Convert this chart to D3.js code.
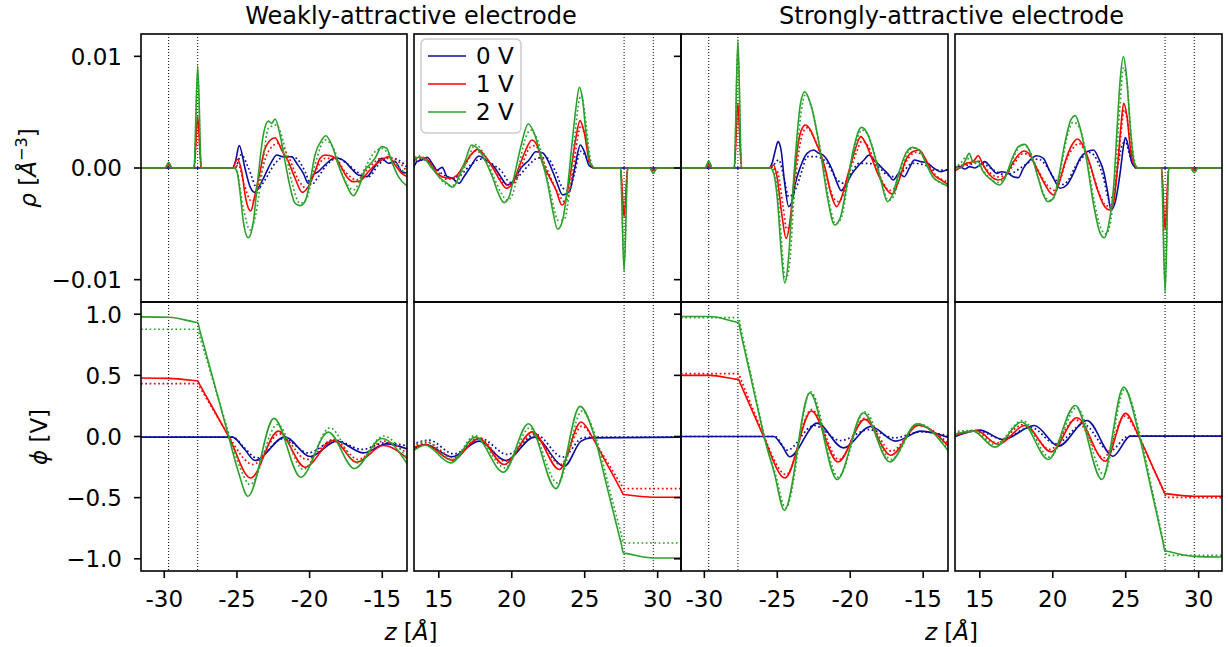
<!DOCTYPE html>
<html><head><meta charset="utf-8">
<script src="https://cdn.jsdelivr.net/npm/d3@7"></script>
<style>
body{margin:0;background:#fff}
text{font-family:"DejaVu Sans",sans-serif;fill:#000}
</style>
</head><body>
<svg id="chart" width="1228" height="647"></svg>
<script>
// ---------------- DATA (z in Å; rho in 1e-3 Å^-3; phi in V) ----------------
const voltages = ["0 V", "1 V", "2 V"];
const colors = ["#0b0b9e", "#ff0000", "#2ca02c"];
const titles = ["Weakly-attractive electrode", "Strongly-attractive electrode"];
const xTicksL = [-30, -25, -20, -15];
const xTickLabelsL = ["-30", "-25", "-20", "-15"];
const xTicksR = [15, 20, 25, 30];
const xTickLabelsR = ["15", "20", "25", "30"];
const rhoTicks = [-0.01, 0, 0.01];
const rhoTickLabels = ["\u22120.01", "0.00", "0.01"];
const phiTicks = [-1, -0.5, 0, 0.5, 1];
const phiTickLabels = ["\u22121.0", "\u22120.5", "0.0", "0.5", "1.0"];
const electrodeL = [-29.7, -27.7];
const electrodeR = [27.7, 29.7];

// ---- Weakly attractive: charge density, left wall ----
const weakRhoL_0V = [[-31.6,0],[-25.3,0],[-25.1,0.6],[-24.84,2.0],[-24.45,0],[-24.1,-1.67],[-23.76,-2.18],[-23.41,-1.52],[-23.07,-0.63],[-22.61,0.57],[-22.26,1.16],[-21.81,1.01],[-21.23,1.01],[-20.89,0.42],[-20.43,-0.48],[-20.09,-1.37],[-19.75,-0.63],[-19.4,-0.33],[-18.94,0.27],[-18.25,0.92],[-17.56,0.57],[-17.1,-0.09],[-16.65,-0.63],[-16.07,-0.78],[-15.6,-0.03],[-15.04,0.87],[-14.58,0.42],[-14.12,0.57],[-13.66,-0.33],[-13.2,-0.5]];
const weakRhoL_0V_dot = [[-31.6,0],[-25.13,0],[-24.7,1.2],[-24.21,0],[-23.57,-1.88],[-23.07,-1.07],[-22.38,0.42],[-21.69,1.02],[-21.0,0.93],[-20.31,-0.33],[-19.9,-1.52],[-19.4,-0.78],[-18.82,0.27],[-18.13,0.87],[-17.45,0.42],[-16.76,-0.33],[-15.96,-0.78],[-15.27,0.27],[-14.58,0.93],[-13.89,0.72],[-13.2,-0.05]];
const weakRhoL_1V = [[-31.6,0],[-29.95,0],[-29.7,0.3],[-29.45,0],[-27.95,0],[-27.7,4.6],[-27.45,0],[-25.3,0],[-24.98,0.78],[-24.67,-0.33],[-24.4,-2.71],[-24.05,-3.85],[-23.76,-2.42],[-23.41,-0.33],[-23.07,1.76],[-22.38,2.71],[-21.92,1.61],[-21.46,0.57],[-21.0,-0.92],[-20.5,-2.18],[-20.09,-1.67],[-19.63,-0.33],[-19.28,0.87],[-18.94,1.16],[-18.37,1.01],[-17.91,0.27],[-17.45,-0.78],[-17.0,-1.22],[-16.53,-1.16],[-15.96,-0.33],[-15.5,0.27],[-15.04,0.72],[-14.58,1.01],[-14.12,0.27],[-13.66,-0.48],[-13.2,-0.8]];
const weakRhoL_1V_dot = [[-31.6,0],[-29.95,0],[-29.7,0.25],[-29.45,0],[-27.95,0],[-27.7,4.2],[-27.45,0],[-25.2,0],[-24.9,0.27],[-24.5,-1.5],[-23.98,-3.0],[-23.64,-2.27],[-23.3,-0.33],[-22.84,1.46],[-22.15,2.21],[-21.46,1.02],[-20.77,-1.07],[-20.2,-1.82],[-19.63,-0.33],[-18.94,0.87],[-18.25,0.87],[-17.56,-0.33],[-16.76,-1.07],[-15.96,-0.03],[-15.04,0.87],[-14.35,0.87],[-13.2,-0.5]];
const weakRhoL_2V = [[-31.6,0],[-29.95,0],[-29.7,0.5],[-29.45,0],[-27.95,0],[-27.7,9.2],[-27.45,0],[-25.2,0],[-25.0,-0.3],[-24.79,-2.12],[-24.56,-4.8],[-24.22,-6.24],[-23.87,-4.8],[-23.53,-0.63],[-23.19,2.95],[-22.84,4.2],[-22.61,4.0],[-22.38,4.39],[-22.03,2.95],[-21.69,0.57],[-21.35,-1.67],[-21.0,-3.16],[-20.66,-3.37],[-20.32,-3.01],[-19.97,-1.22],[-19.63,1.16],[-19.17,2.5],[-18.89,2.89],[-18.47,2.06],[-18.02,0.27],[-17.56,-1.22],[-16.99,-2.48],[-16.65,-1.82],[-16.19,-0.18],[-15.84,0.33],[-15.5,0.87],[-15.04,1.91],[-14.69,1.76],[-14.35,0.57],[-13.89,-0.78],[-13.2,-1.7]];
const weakRhoL_2V_dot = [[-31.6,0],[-29.95,0],[-29.7,0.45],[-29.45,0],[-27.95,0],[-27.7,8.4],[-27.45,0],[-25.1,0],[-24.56,-3.61],[-24.1,-5.55],[-23.71,-4.21],[-23.3,-0.63],[-22.84,3.55],[-22.27,3.85],[-21.81,2.36],[-21.23,-1.22],[-20.66,-3.16],[-20.2,-2.72],[-19.63,0.27],[-18.94,2.51],[-18.25,1.46],[-17.68,-0.78],[-16.99,-1.97],[-16.19,0],[-15.5,1.46],[-15.04,1.76],[-14.35,0.87],[-13.66,-0.18],[-13.2,-0.65]];

// ---- Weakly attractive: charge density, right wall ----
const weakRhoR_0V = [[13.2,-0.18],[13.51,0.57],[13.85,0.72],[14.2,0.96],[14.54,0.42],[14.88,-0.18],[15.23,0.06],[15.57,-0.78],[15.92,-0.92],[16.38,-1.37],[16.72,-0.78],[17.18,0.12],[17.75,1.07],[18.21,0.72],[18.79,0.12],[19.24,-0.78],[19.7,-1.52],[20.16,-1.07],[20.62,-0.03],[21.19,0.72],[21.65,1.46],[22.11,1.37],[22.57,0.42],[23.03,-1.07],[23.49,-2.42],[23.95,-2.12],[24.29,-0.18],[24.7,2.06],[24.98,1.46],[25.32,0.18],[25.67,0],[31.6,0]];
const weakRhoR_0V_dot = [[13.2,0.3],[13.85,0.8],[14.5,0.3],[15.2,-0.5],[15.9,-0.9],[16.5,-0.6],[17.2,0.3],[17.9,0.8],[18.6,0.4],[19.3,-0.3],[19.9,-1.3],[20.5,-0.7],[21.2,0.3],[21.8,0.9],[22.4,0.9],[23.0,-0.3],[23.5,-1.8],[23.9,-2.0],[24.3,-0.5],[24.7,1.5],[25.0,1.2],[25.4,0.2],[25.7,0],[31.6,0]];
const weakRhoR_1V = [[13.2,0.57],[13.62,0.96],[14.08,0.87],[14.43,0.42],[14.77,-0.33],[15.23,-0.78],[15.8,-0.92],[16.26,-0.63],[16.72,0.27],[17.29,1.31],[17.64,1.67],[18.21,1.01],[18.79,-0.18],[19.24,-1.22],[19.63,-1.82],[20.05,-1.37],[20.51,0.12],[20.96,1.61],[21.38,2.51],[21.77,1.91],[22.11,0.42],[22.57,-0.78],[23.03,-1.97],[23.44,-3.31],[23.72,-2.72],[24.06,-0.18],[24.41,2.81],[24.68,4.24],[24.98,3.1],[25.32,0.57],[25.67,0],[27.45,0],[27.7,-4.4],[27.95,0],[29.45,0],[29.7,-0.25],[29.95,0],[31.6,0]];
const weakRhoR_1V_dot = [[13.2,0.4],[13.7,0.9],[14.2,0.7],[14.9,-0.3],[15.5,-1.0],[16.1,-0.9],[16.8,0.3],[17.5,1.5],[18.2,1.0],[18.9,-0.3],[19.6,-1.5],[20.2,-1.3],[20.7,0.3],[21.3,1.9],[21.6,2.0],[22.2,0.5],[23.2,-2.3],[23.6,-3.0],[23.9,-2.5],[24.2,-0.2],[24.5,2.6],[24.75,3.8],[25.0,3.0],[25.4,0.4],[25.7,0],[27.45,0],[27.7,-4.0],[27.95,0],[29.45,0],[29.7,-0.2],[29.95,0],[31.6,0]];
const weakRhoR_2V = [[13.2,0.42],[13.62,0.96],[14.08,0.72],[14.54,-0.03],[15.11,-0.92],[15.57,-1.37],[15.96,-1.73],[16.38,-0.78],[16.83,0.72],[17.25,2.06],[17.52,1.91],[18.1,0.87],[18.67,-0.78],[19.08,-2.27],[19.47,-3.1],[19.82,-2.57],[20.16,-0.78],[20.62,1.91],[21.13,3.94],[21.54,3.1],[22.0,1.01],[22.46,-1.37],[22.8,-3.76],[23.14,-5.49],[23.49,-4.65],[23.83,-1.67],[24.18,2.81],[24.41,5.49],[24.63,7.22],[24.86,6.09],[25.09,3.1],[25.44,0.27],[25.78,0],[27.45,0],[27.7,-9.3],[27.95,0],[29.45,0],[29.7,-0.48],[29.95,0],[31.6,0]];
const weakRhoR_2V_dot = [[13.2,0.6],[13.6,1.1],[14.1,0.8],[14.6,0],[15.2,-1.1],[15.8,-1.6],[16.4,-1.0],[17.0,0.8],[17.5,2.1],[18.2,1.0],[18.8,-0.9],[19.3,-2.3],[19.7,-2.9],[20.1,-2.2],[20.5,0.2],[20.9,2.5],[21.3,3.4],[21.7,2.7],[22.2,0.5],[22.7,-2.5],[23.2,-4.7],[23.6,-4.6],[24.0,-1.5],[24.3,2.5],[24.55,5.5],[24.75,6.5],[25.0,5.0],[25.3,1.5],[25.6,0],[27.45,0],[27.7,-8.5],[27.95,0],[29.45,0],[29.7,-0.45],[29.95,0],[31.6,0]];

// ---- Strongly attractive: charge density, left wall ----
const strongRhoL_0V = [[-31.6,0],[-25.59,0],[-25.36,0.42],[-25.13,1.61],[-24.95,2.36],[-24.74,1.61],[-24.52,-1.07],[-24.22,-3.46],[-23.99,-3.01],[-23.76,-1.37],[-23.41,0.12],[-22.96,1.31],[-22.5,1.61],[-22.15,1.31],[-21.85,1.16],[-21.58,0.72],[-21.23,-0.18],[-20.89,-1.37],[-20.62,-2.03],[-20.32,-1.52],[-19.86,-0.48],[-19.4,0.27],[-19.06,0.72],[-18.71,1.16],[-18.37,0.72],[-17.91,0.12],[-17.45,-0.48],[-17.04,-1.07],[-16.65,-0.48],[-16.3,-0.78],[-15.96,-0.03],[-15.61,0.72],[-15.16,0.57],[-14.7,0.42],[-14.24,-0.03],[-13.78,-0.33],[-13.2,-0.03]];
const strongRhoL_0V_dot = [[-31.6,0],[-25.45,0],[-25.25,0.27],[-24.9,0.72],[-24.55,-0.8],[-24.22,-2.57],[-23.76,-1.97],[-23.3,-0.2],[-22.96,1.01],[-22.3,1.01],[-21.6,0.45],[-20.89,-1.07],[-20.43,-1.37],[-19.95,-0.5],[-19.4,0.42],[-18.8,0.42],[-18.1,0.12],[-17.45,-0.63],[-16.88,-0.78],[-16.3,-0.2],[-15.73,0.42],[-14.9,0.27],[-14.2,-0.2],[-13.2,-0.18]];
const strongRhoL_1V = [[-31.6,0],[-29.95,0],[-29.7,0.3],[-29.45,0],[-27.95,0],[-27.7,5.8],[-27.45,0],[-25.59,0],[-25.25,0.27],[-25.02,-0.78],[-24.67,-4.36],[-24.4,-6.3],[-24.15,-4.95],[-23.87,-1.37],[-23.6,1.91],[-23.3,3.55],[-23.07,3.85],[-22.73,3.4],[-22.38,2.36],[-22.04,1.31],[-21.69,-0.18],[-21.3,-2.42],[-20.94,-3.46],[-20.62,-2.72],[-20.2,-0.78],[-19.74,1.31],[-19.28,2.81],[-18.94,2.21],[-18.48,0.72],[-18.02,-0.78],[-17.56,-1.82],[-17.11,-2.33],[-16.65,-1.07],[-16.19,0.72],[-15.73,1.46],[-15.27,1.61],[-14.81,0.72],[-14.35,-0.48],[-13.78,-1.07],[-13.2,-1.55]];
const strongRhoL_1V_dot = [[-31.6,0],[-29.95,0],[-29.7,0.25],[-29.45,0],[-27.95,0],[-27.7,5.3],[-27.45,0],[-25.4,0],[-25.0,-0.3],[-24.6,-3.5],[-24.35,-5.5],[-24.1,-4.8],[-23.8,-1.5],[-23.5,1.7],[-23.2,3.3],[-22.95,3.6],[-22.6,3.0],[-22.2,1.8],[-21.8,0.2],[-21.4,-1.8],[-20.9,-3.0],[-20.5,-2.5],[-20.1,-0.6],[-19.6,1.3],[-19.2,2.4],[-18.8,2.0],[-18.3,0.4],[-17.8,-1.2],[-17.3,-2.0],[-16.9,-1.7],[-16.5,-0.4],[-16.0,0.9],[-15.5,1.4],[-15.1,1.2],[-14.6,0.2],[-14.1,-0.7],[-13.6,-1.1],[-13.2,-1.3]];
const strongRhoL_2V = [[-31.6,0],[-29.95,0],[-29.7,0.63],[-29.45,0],[-27.95,0],[-27.7,11.5],[-27.45,0],[-25.48,0],[-25.25,-0.48],[-24.97,-3.16],[-24.74,-7.34],[-24.49,-10.3],[-24.22,-7.94],[-23.99,-3.16],[-23.69,2.21],[-23.41,5.79],[-23.12,6.83],[-22.73,5.79],[-22.31,3.4],[-21.92,0.42],[-21.53,-2.86],[-21.07,-5.1],[-20.66,-4.36],[-20.25,-1.67],[-19.74,1.91],[-19.24,3.64],[-18.83,3.1],[-18.37,1.31],[-17.91,-1.07],[-17.45,-3.01],[-17.11,-2.42],[-16.65,-0.33],[-16.19,1.31],[-15.73,1.85],[-15.27,1.61],[-14.81,0.42],[-14.35,-0.78],[-13.78,-1.31],[-13.2,-1.7]];
const strongRhoL_2V_dot = [[-31.6,0],[-29.95,0],[-29.7,0.55],[-29.45,0],[-27.95,0],[-27.7,10.5],[-27.45,0],[-25.4,0],[-25.1,-0.8],[-24.8,-5.0],[-24.45,-10.0],[-24.15,-8.5],[-23.9,-3.5],[-23.6,2.0],[-23.3,5.6],[-23.05,6.6],[-22.7,5.6],[-22.25,3.0],[-21.85,0.2],[-21.45,-3.0],[-21.0,-5.0],[-20.6,-4.4],[-20.2,-1.6],[-19.7,1.7],[-19.2,3.4],[-18.8,3.0],[-18.3,1.1],[-17.85,-1.2],[-17.4,-2.9],[-17.0,-2.5],[-16.6,-0.5],[-16.1,1.3],[-15.7,1.8],[-15.2,1.5],[-14.75,0.3],[-14.3,-0.8],[-13.7,-1.4],[-13.2,-1.6]];

// ---- Strongly attractive: charge density, right wall ----
const strongRhoR_0V = [[13.2,-0.09],[13.62,0.12],[13.97,-0.09],[14.31,0.12],[14.66,0],[15.0,0.27],[15.34,0.57],[15.8,-0.03],[16.15,-0.48],[16.49,-0.33],[16.95,-0.48],[17.29,-0.78],[17.64,-0.86],[17.98,-0.03],[18.44,0.72],[18.9,1.1],[19.36,0.87],[19.7,-0.03],[20.05,-0.92],[20.51,-1.82],[20.96,-1.52],[21.42,-0.48],[21.88,0.87],[22.34,1.46],[22.8,1.61],[23.14,0.87],[23.49,-0.33],[23.76,-2.12],[23.99,-3.76],[24.29,-3.01],[24.63,-0.33],[24.86,2.06],[24.98,2.72],[25.21,1.76],[25.44,0.42],[25.78,0],[31.6,0]];
const strongRhoR_0V_dot = [[13.2,0.1],[13.8,0.2],[14.3,0.3],[14.9,0.6],[15.5,0.2],[16.1,-0.3],[16.7,-0.6],[17.3,-0.4],[17.9,0.1],[18.5,0.6],[19.0,0.8],[19.5,0.3],[20.1,-0.9],[20.6,-1.5],[21.0,-1.2],[21.5,0],[22.0,0.9],[22.5,1.4],[23.0,0.8],[23.5,-1.0],[23.85,-2.8],[24.15,-2.5],[24.5,0.5],[24.8,2.2],[25.0,2.3],[25.3,1.0],[25.7,0],[31.6,0]];
const strongRhoR_1V = [[13.2,-0.33],[13.62,0],[14.08,0.42],[14.54,0.57],[14.89,1.1],[15.23,0.27],[15.69,-0.63],[16.26,-1.07],[16.72,-0.78],[17.18,0.27],[17.64,1.16],[18.03,1.52],[18.44,1.16],[18.9,-0.03],[19.36,-1.22],[19.77,-2.12],[20.05,-2.42],[20.39,-1.52],[20.85,0.57],[21.31,2.06],[21.7,2.6],[22.11,1.91],[22.57,0.27],[23.03,-1.82],[23.49,-3.31],[23.9,-3.76],[24.18,-3.01],[24.45,0.27],[24.68,3.85],[24.86,5.79],[25.09,4.6],[25.32,1.76],[25.67,0.12],[25.9,0],[27.45,0],[27.7,-5.55],[27.95,0],[29.45,0],[29.7,-0.2],[29.95,0],[31.6,0]];
const strongRhoR_1V_dot = [[13.2,-0.2],[13.7,0.2],[14.3,0.4],[14.9,0.6],[15.5,-0.2],[16.2,-0.8],[16.8,-0.6],[17.4,0.5],[18.0,1.3],[18.5,1.0],[19.0,-0.2],[19.6,-1.5],[20.1,-2.0],[20.5,-1.1],[20.9,0.6],[21.4,1.8],[21.8,2.2],[22.2,1.5],[22.7,-0.3],[23.2,-2.3],[23.7,-3.4],[24.0,-3.3],[24.35,-1.0],[24.65,2.8],[24.9,5.2],[25.1,4.4],[25.4,1.5],[25.8,0],[27.45,0],[27.7,-5.0],[27.95,0],[29.45,0],[29.7,-0.18],[29.95,0],[31.6,0]];
const strongRhoR_2V = [[13.2,0.27],[13.62,0],[13.97,0.57],[14.27,1.31],[14.54,0.57],[14.89,0.57],[15.23,-0.33],[15.8,-1.07],[16.33,-1.52],[16.72,-0.92],[17.18,0.72],[17.64,1.91],[18.1,2.12],[18.56,1.01],[19.01,-0.92],[19.36,-2.42],[19.66,-3.01],[20.05,-2.72],[20.39,-0.92],[20.85,2.36],[21.24,4.3],[21.54,4.69],[21.88,3.55],[22.34,0.57],[22.8,-3.31],[23.21,-5.7],[23.53,-6.24],[23.83,-5.1],[24.18,-1.52],[24.41,3.55],[24.63,8.03],[24.84,9.97],[25.05,8.33],[25.32,3.55],[25.6,0.42],[25.9,0],[27.45,0],[27.7,-11.2],[27.95,0],[29.45,0],[29.7,-0.42],[29.95,0],[31.6,0]];
const strongRhoR_2V_dot = [[13.2,0.2],[13.6,0.3],[14.0,0.9],[14.5,0.6],[15.0,0.1],[15.6,-0.8],[16.2,-1.3],[16.8,-0.7],[17.4,1.2],[17.9,2.1],[18.4,1.6],[18.9,-0.4],[19.4,-2.4],[19.8,-2.9],[20.2,-2.3],[20.6,0.3],[21.0,2.9],[21.4,4.1],[21.8,3.7],[22.3,1.2],[22.8,-2.7],[23.3,-5.4],[23.65,-5.9],[24.0,-4.5],[24.3,-0.5],[24.6,5.5],[24.85,9.0],[25.1,7.5],[25.4,2.5],[25.8,0],[27.45,0],[27.7,-10.3],[27.95,0],[29.45,0],[29.7,-0.4],[29.95,0],[31.6,0]];

// ---- Weakly attractive: potential ----
const weakPhiL_0V = [[-31.6,-0.005],[-25.3,-0.005],[-24.5,-0.1],[-23.76,-0.196],[-21.69,-0.003],[-19.97,-0.164],[-18.14,-0.038],[-16.3,-0.134],[-14.7,-0.06],[-13.2,-0.106]];
const weakPhiL_0V_dot = [[-31.6,-0.005],[-25.3,-0.005],[-24.5,-0.09],[-23.65,-0.175],[-21.8,-0.016],[-20.1,-0.134],[-18.25,-0.03],[-16.4,-0.106],[-14.8,-0.052],[-13.2,-0.079]];
const weakPhiL_1V = [[-31.6,0.478],[-29.66,0.475],[-27.85,0.456],[-27.7,0.454],[-27.55,0.422],[-26.63,0.227],[-25.9,0.07],[-25.57,0.0],[-24.06,-0.339],[-22.15,0.044],[-20.32,-0.251],[-18.37,-0.033],[-16.76,-0.21],[-14.93,-0.074],[-13.2,-0.188]];
const weakPhiL_1V_dot = [[-31.6,0.432],[-27.85,0.432],[-27.7,0.432],[-27.55,0.402],[-26.6,0.212],[-25.9,0.07],[-25.5,-0.01],[-23.87,-0.229],[-22.08,0.022],[-20.2,-0.188],[-18.37,-0.024],[-16.65,-0.188],[-14.93,-0.038],[-13.2,-0.147]];
const weakPhiL_2V = [[-31.6,0.978],[-29.66,0.975],[-27.85,0.935],[-27.7,0.932],[-27.55,0.866],[-26.63,0.464],[-25.9,0.144],[-25.57,0.0],[-24.9,-0.29],[-24.24,-0.489],[-22.45,0.148],[-20.61,-0.333],[-18.71,0.036],[-16.92,-0.262],[-15.04,-0.016],[-13.2,-0.24]];
const weakPhiL_2V_dot = [[-31.6,0.877],[-27.85,0.877],[-27.7,0.877],[-27.55,0.817],[-26.6,0.44],[-25.9,0.16],[-25.5,0.0],[-24.8,-0.25],[-24.1,-0.393],[-22.22,0.098],[-20.43,-0.27],[-18.6,0.071],[-16.76,-0.216],[-14.93,0.003],[-13.2,-0.2]];
const weakPhiR_0V = [[13.2,-0.106],[14.08,-0.065],[15.92,-0.166],[17.75,-0.038],[19.59,-0.197],[21.54,-0.005],[23.6,-0.243],[24.75,-0.038],[25.44,-0.011],[31.6,-0.005]];
const weakPhiR_0V_dot = [[13.2,-0.065],[14.31,-0.03],[16.03,-0.142],[17.87,-0.016],[19.7,-0.147],[21.65,0.016],[23.49,-0.169],[24.86,-0.011],[25.55,-0.005],[31.6,-0.005]];
const weakPhiR_1V = [[13.2,-0.093],[14.08,-0.065],[15.92,-0.194],[17.75,-0.016],[19.47,-0.229],[21.42,0.038],[23.26,-0.27],[24.75,0.118],[25.55,-0.011],[26.0,-0.11],[26.6,-0.242],[27.2,-0.374],[27.51,-0.442],[27.66,-0.475],[27.81,-0.477],[29.68,-0.497],[31.6,-0.497]];
const weakPhiR_1V_dot = [[13.2,-0.079],[14.2,-0.05],[16.03,-0.175],[17.75,-0.011],[19.54,-0.202],[21.49,0.022],[23.33,-0.229],[24.82,0.085],[25.55,-0.011],[26.0,-0.1],[26.6,-0.218],[27.2,-0.336],[27.51,-0.396],[27.66,-0.426],[27.81,-0.426],[31.6,-0.426]];
const weakPhiR_2V = [[13.2,-0.12],[14.08,-0.071],[15.8,-0.216],[17.52,-0.005],[19.43,-0.292],[21.15,0.104],[23.03,-0.426],[24.68,0.246],[25.67,0.0],[26.47,-0.383],[27.1,-0.685],[27.51,-0.881],[27.66,-0.953],[27.81,-0.956],[29.68,-0.994],[31.6,-0.994]];
const weakPhiR_2V_dot = [[13.2,-0.079],[14.08,-0.04],[15.92,-0.188],[17.48,0.008],[19.54,-0.257],[21.24,0.071],[23.14,-0.38],[24.82,0.208],[25.75,0.0],[26.7,-0.433],[27.2,-0.661],[27.51,-0.803],[27.66,-0.871],[27.81,-0.871],[31.6,-0.871]];

// ---- Strongly attractive: potential ----
const strongPhiL_0V = [[-31.6,0],[-25.25,0],[-24.7,-0.07],[-24.15,-0.166],[-22.27,0.109],[-20.48,-0.093],[-18.6,0.082],[-16.88,-0.038],[-15.16,0.044],[-13.2,-0.011]];
const strongPhiL_0V_dot = [[-31.6,0],[-25.15,0],[-24.33,-0.112],[-22.5,0.09],[-20.66,-0.033],[-18.71,0.057],[-16.99,-0.011],[-15.16,0.038],[-13.2,0.003]];
const strongPhiL_1V = [[-31.6,0.5],[-29.61,0.5],[-27.81,0.469],[-27.66,0.467],[-27.51,0.426],[-26.81,0.236],[-26.2,0.07],[-25.94,0.0],[-24.47,-0.339],[-22.66,0.208],[-20.84,-0.208],[-19.01,0.14],[-17.22,-0.153],[-15.34,0.093],[-13.2,-0.087]];
const strongPhiL_1V_dot = [[-31.6,0.514],[-27.81,0.514],[-27.66,0.514],[-27.51,0.47],[-26.8,0.263],[-26.2,0.088],[-25.9,0.0],[-24.38,-0.311],[-22.66,0.221],[-20.77,-0.188],[-19.01,0.148],[-17.17,-0.12],[-15.34,0.09],[-13.2,-0.065]];
const strongPhiL_2V = [[-31.6,0.981],[-29.61,0.981],[-27.81,0.936],[-27.66,0.932],[-27.51,0.852],[-26.81,0.479],[-26.2,0.154],[-25.94,0.016],[-25.2,-0.3],[-24.51,-0.604],[-22.77,0.358],[-20.89,-0.352],[-19.1,0.194],[-17.29,-0.208],[-15.43,0.104],[-13.2,-0.131]];
const strongPhiL_2V_dot = [[-31.6,0.973],[-27.81,0.973],[-27.66,0.973],[-27.51,0.891],[-26.78,0.492],[-26.2,0.175],[-25.88,0.0],[-25.15,-0.3],[-24.42,-0.585],[-22.73,0.366],[-20.82,-0.333],[-19.01,0.202],[-17.22,-0.188],[-15.34,0.104],[-13.2,-0.115]];
const strongPhiR_0V = [[13.2,-0.005],[15.0,0.052],[16.61,-0.025],[18.74,0.09],[20.39,-0.079],[22.34,0.131],[24.13,-0.161],[25.32,0.003],[31.6,0.003]];
const strongPhiR_0V_dot = [[13.2,0.005],[14.9,0.045],[16.5,-0.02],[18.5,0.075],[20.2,-0.06],[22.1,0.1],[23.9,-0.12],[25.2,0.003],[31.6,0.003]];
const strongPhiR_1V = [[13.2,0.003],[14.77,0.049],[16.26,-0.065],[18.1,0.09],[19.89,-0.126],[21.65,0.153],[23.6,-0.202],[24.98,0.189],[25.9,0.0],[26.8,-0.235],[27.3,-0.365],[27.54,-0.428],[27.69,-0.467],[27.84,-0.469],[29.68,-0.489],[31.6,-0.489]];
const strongPhiR_1V_dot = [[13.2,0.022],[14.66,0.044],[16.15,-0.052],[17.98,0.098],[19.82,-0.106],[21.54,0.139],[23.49,-0.175],[24.93,0.167],[25.9,0.0],[26.8,-0.237],[27.3,-0.368],[27.64,-0.458],[27.79,-0.497],[27.94,-0.498],[31.6,-0.5]];
const strongPhiR_2V = [[13.2,0.016],[14.54,0.044],[16.03,-0.087],[17.87,0.118],[19.7,-0.188],[21.54,0.254],[23.37,-0.352],[24.86,0.404],[25.94,0.0],[26.81,-0.464],[27.3,-0.726],[27.54,-0.854],[27.69,-0.934],[27.84,-0.938],[29.68,-0.98],[31.6,-0.986]];
const strongPhiR_2V_dot = [[13.2,0.038],[14.54,0.05],[16.03,-0.065],[17.94,0.131],[19.77,-0.169],[21.65,0.235],[23.49,-0.311],[24.93,0.385],[26.01,0.0],[26.9,-0.486],[27.4,-0.759],[27.64,-0.89],[27.79,-0.972],[27.94,-0.972],[31.6,-0.972]];

// ---------------- LAYOUT ----------------
const svg = d3.select("#chart");
const FONT = 23;
const groups = [
  {cols: [[141, 407], [414, 681]], title: titles[0], labelTicks: true},
  {cols: [[681, 948], [955, 1222]], title: titles[1], labelTicks: false}
];
const rows = [
  {y: [34, 302], domain: [-0.012, 0.012], ticks: rhoTicks, tickLabels: rhoTickLabels, unit: 1e-3},
  {y: [302, 571], domain: [-1.1, 1.1], ticks: phiTicks, tickLabels: phiTickLabels, unit: 1}
];
const seriesByPanel = {
  "0-0-0": [[weakRhoL_0V, weakRhoL_0V_dot], [weakRhoL_1V, weakRhoL_1V_dot], [weakRhoL_2V, weakRhoL_2V_dot]],
  "0-0-1": [[weakRhoR_0V, weakRhoR_0V_dot], [weakRhoR_1V, weakRhoR_1V_dot], [weakRhoR_2V, weakRhoR_2V_dot]],
  "0-1-0": [[weakPhiL_0V, weakPhiL_0V_dot], [weakPhiL_1V, weakPhiL_1V_dot], [weakPhiL_2V, weakPhiL_2V_dot]],
  "0-1-1": [[weakPhiR_0V, weakPhiR_0V_dot], [weakPhiR_1V, weakPhiR_1V_dot], [weakPhiR_2V, weakPhiR_2V_dot]],
  "1-0-0": [[strongRhoL_0V, strongRhoL_0V_dot], [strongRhoL_1V, strongRhoL_1V_dot], [strongRhoL_2V, strongRhoL_2V_dot]],
  "1-0-1": [[strongRhoR_0V, strongRhoR_0V_dot], [strongRhoR_1V, strongRhoR_1V_dot], [strongRhoR_2V, strongRhoR_2V_dot]],
  "1-1-0": [[strongPhiL_0V, strongPhiL_0V_dot], [strongPhiL_1V, strongPhiL_1V_dot], [strongPhiL_2V, strongPhiL_2V_dot]],
  "1-1-1": [[strongPhiR_0V, strongPhiR_0V_dot], [strongPhiR_1V, strongPhiR_1V_dot], [strongPhiR_2V, strongPhiR_2V_dot]]
};
const defs = svg.append("defs");

groups.forEach((g, gi) => {
  rows.forEach((r, ri) => {
    const y = d3.scaleLinear().domain(r.domain).range([r.y[1], r.y[0]]);
    g.cols.forEach((c, si) => {
      const x = d3.scaleLinear().domain(si === 0 ? [-31.6, -13.3] : [13.3, 31.6]).range(c);
      const id = `clip-${gi}-${ri}-${si}`;
      defs.append("clipPath").attr("id", id).append("rect")
        .attr("x", c[0]).attr("y", r.y[0]).attr("width", c[1] - c[0]).attr("height", r.y[1] - r.y[0]);
      const p = svg.append("g").attr("clip-path", `url(#${id})`);
      // electrode position markers
      p.selectAll("line.el").data(si === 0 ? electrodeL : electrodeR).join("line")
        .attr("x1", d => x(d)).attr("x2", d => x(d))
        .attr("y1", r.y[0]).attr("y2", r.y[1])
        .attr("stroke", "#000").attr("stroke-width", 1).attr("stroke-dasharray", "1,2");
      const line = d3.line().x(d => x(d[0])).y(d => y(d[1] * r.unit)).curve(d3.curveMonotoneX);
      const ser = seriesByPanel[`${gi}-${ri}-${si}`];
      ser.forEach((pair, vi) => {
        p.append("path").attr("d", line(pair[1])).attr("fill", "none")
          .attr("stroke", colors[vi]).attr("stroke-width", 1.7).attr("stroke-dasharray", "1.7,2.6");
        p.append("path").attr("d", line(pair[0])).attr("fill", "none")
          .attr("stroke", colors[vi]).attr("stroke-width", 1.6);
      });
      // frame
      svg.append("rect").attr("x", c[0]).attr("y", r.y[0])
        .attr("width", c[1] - c[0]).attr("height", r.y[1] - r.y[0])
        .attr("fill", "none").attr("stroke", "#000").attr("stroke-width", 1.6);
      // x ticks on bottom row
      if (ri === 1) {
        const tv = si === 0 ? xTicksL : xTicksR;
        const tl = si === 0 ? xTickLabelsL : xTickLabelsR;
        tv.forEach((t, k) => {
          svg.append("line").attr("x1", x(t)).attr("x2", x(t)).attr("y1", r.y[1]).attr("y2", r.y[1] + 7)
            .attr("stroke", "#000").attr("stroke-width", 1.6);
          svg.append("text").attr("x", x(t)).attr("y", r.y[1] + 36).attr("text-anchor", "middle")
            .attr("font-size", FONT).text(tl[k]);
        });
      }
      // y ticks on left sub-panel
      if (si === 0) {
        r.ticks.forEach((t, k) => {
          svg.append("line").attr("x1", c[0] - 7).attr("x2", c[0]).attr("y1", y(t)).attr("y2", y(t))
            .attr("stroke", "#000").attr("stroke-width", 1.6);
          if (g.labelTicks) {
            svg.append("text").attr("x", c[0] - 19).attr("y", y(t)).attr("dy", "0.36em")
              .attr("text-anchor", "end").attr("font-size", FONT).text(r.tickLabels[k]);
          }
        });
      }
    });
  });
  // title
  const cx = (g.cols[0][0] + g.cols[1][1]) / 2;
  svg.append("text").attr("x", cx).attr("y", 24).attr("text-anchor", "middle")
    .attr("font-size", FONT + 1).text(g.title);
  // x label
  const xl = svg.append("text").attr("x", cx).attr("y", 640).attr("text-anchor", "middle").attr("font-size", FONT);
  xl.append("tspan").attr("font-style", "italic").text("z");
  xl.append("tspan").text(" [");
  xl.append("tspan").attr("font-style", "italic").text("Å");
  xl.append("tspan").text("]");
});

// y labels
const yl1 = svg.append("text").attr("transform", "translate(36,168) rotate(-90)")
  .attr("text-anchor", "middle").attr("font-size", FONT);
yl1.append("tspan").attr("font-style", "italic").text("ρ");
yl1.append("tspan").text(" [");
yl1.append("tspan").attr("font-style", "italic").text("Å");
yl1.append("tspan").attr("font-size", FONT * 0.7).attr("dy", -9).text("−3");
yl1.append("tspan").attr("dy", 9).text("]");
const yl2 = svg.append("text").attr("transform", "translate(47,437) rotate(-90)")
  .attr("text-anchor", "middle").attr("font-size", FONT);
yl2.append("tspan").attr("font-style", "italic").text("ϕ");
yl2.append("tspan").text(" [V]");

// legend
const lg = svg.append("g");
lg.append("rect").attr("x", 421).attr("y", 39).attr("width", 100).attr("height", 94).attr("rx", 5)
  .attr("fill", "#fff").attr("fill-opacity", 0.8).attr("stroke", "#cccccc").attr("stroke-width", 1.5);
voltages.forEach((v, i) => {
  const yy = 56 + i * 28;
  lg.append("line").attr("x1", 428).attr("x2", 466).attr("y1", yy).attr("y2", yy)
    .attr("stroke", colors[i]).attr("stroke-width", 1.6);
  lg.append("text").attr("x", 476).attr("y", yy).attr("dy", "0.36em").attr("font-size", FONT).text(v);
});
</script>
</body></html>
